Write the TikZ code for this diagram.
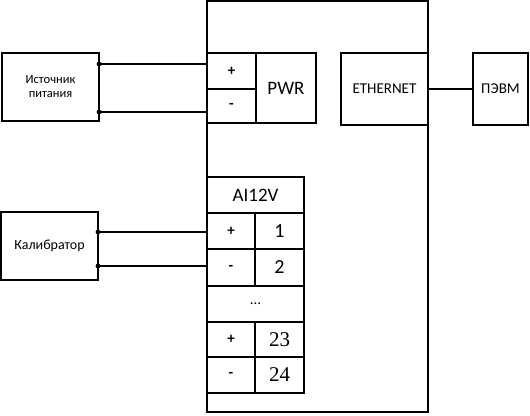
\documentclass[tikz,border=0pt]{standalone}
\usepackage{fontspec}
\setmainfont{Carlito}
\newfontfamily\serifnum{Liberation Serif}
\begin{document}
\begin{tikzpicture}[x=1pt,y=-1pt,
  box/.style={draw, line width=1.9pt, inner sep=0pt, outer sep=0pt, anchor=north west, align=center},
  sign/.style={font=\fontsize{15}{16}\selectfont\bfseries},
  wire/.style={line width=1.9pt},
  dotmark/.style={fill=black}]
\useasboundingbox (0,0) rectangle (530,415);
% main device
\node[box, minimum width=221pt, minimum height=411pt] (main) at (207,1) {};
% left boxes
\node[box, minimum width=97pt, minimum height=68pt, font=\fontsize{12.5}{14}\selectfont] (src) at (2,53) {Источник\\питания};
\node[box, minimum width=97pt, minimum height=68pt, font=\fontsize{14}{16}\selectfont] (cal) at (1,212) {Калибратор};
% PWR block
\node[box, sign, minimum width=49pt, minimum height=36pt] (pp) at (207,53) {+};
\node[box, sign, minimum width=49pt, minimum height=34pt] (pm) at (207,89) {-};
\node[box, minimum width=60pt, minimum height=70pt, font=\fontsize{19}{20}\selectfont] (pwr) at (256,53) {PWR};
% Ethernet
\node[box, minimum width=87pt, minimum height=72pt, font=\fontsize{15}{16}\selectfont] (eth) at (341,53) {ETHERNET};
\node[box, minimum width=55pt, minimum height=72pt, font=\fontsize{15}{16}\selectfont] (pc) at (473,53) {ПЭВМ};
% AI12V block
\node[box, minimum width=97pt, minimum height=36pt, font=\fontsize{19}{20}\selectfont] (ai) at (207,177) {AI12V};
\node[box, sign, minimum width=48pt, minimum height=36pt] (ap1) at (207,213) {+};
\node[box, minimum width=49pt, minimum height=36pt, font=\fontsize{20}{22}\selectfont] (n1) at (255,213) {1};
\node[box, sign, minimum width=48pt, minimum height=37pt] (am1) at (207,249) {-};
\node[box, minimum width=49pt, minimum height=37pt, font=\fontsize{20}{22}\selectfont] (n2) at (255,249) {2};
\node[box, minimum width=97pt, minimum height=36pt, font=\fontsize{15}{16}\selectfont] (dots) at (207,286) {...};
\node[box, sign, minimum width=48pt, minimum height=35pt] (ap2) at (207,322) {+};
\node[box, minimum width=49pt, minimum height=35pt, font=\fontsize{21}{22}\serifnum] (n23) at (255,322) {23};
\node[box, sign, minimum width=48pt, minimum height=36pt] (am2) at (207,357) {-};
\node[box, minimum width=49pt, minimum height=36pt, font=\fontsize{21}{22}\serifnum] (n24) at (255,357) {24};
% connectors
\coordinate (s1) at ([yshift=-11pt]src.north east);
\coordinate (s2) at ([yshift=9pt]src.south east);
\coordinate (c1) at ([yshift=-20pt]cal.north east);
\coordinate (c2) at ([yshift=14pt]cal.south east);
\draw[wire] (s1) -- (s1 -| main.west);
\draw[wire] (s2) -- (s2 -| main.west);
\draw[wire] (c1) -- (c1 -| main.west);
\draw[wire] (c2) -- (c2 -| main.west);
\foreach \p in {s1,s2,c1,c2} \fill[dotmark] (\p) circle (2.4pt);
\draw[wire] (eth.east) -- (pc.west);
\end{tikzpicture}
\end{document}
